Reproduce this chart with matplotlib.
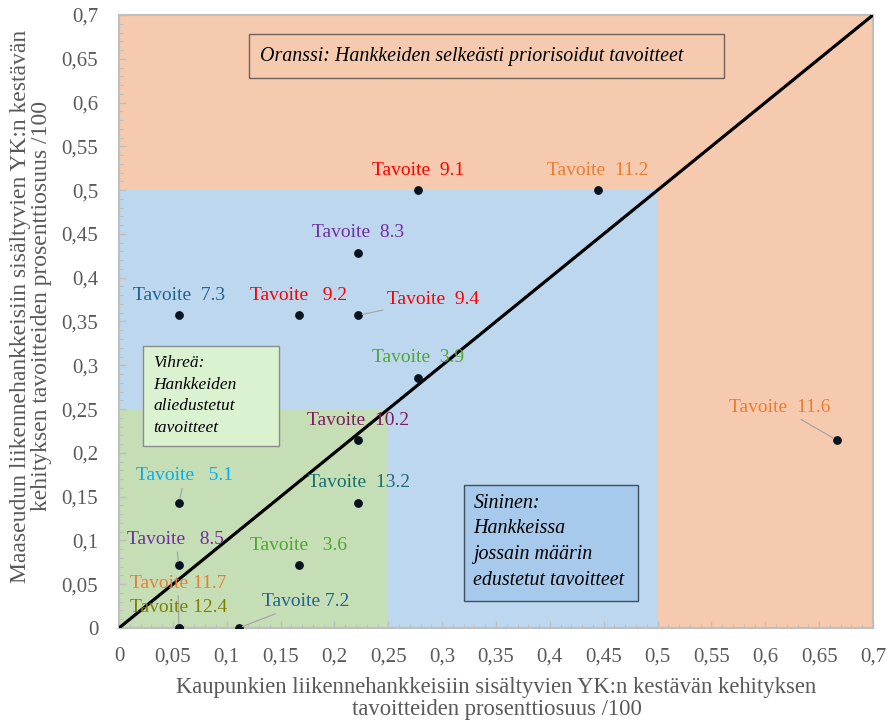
import matplotlib
matplotlib.use("Agg")
import matplotlib.pyplot as plt
from matplotlib.patches import Rectangle
from matplotlib.ticker import MultipleLocator, FuncFormatter

# data: share of goals (city, rural)
labels = ["Tavoite  9.1", "Tavoite  11.2", "Tavoite  8.3", "Tavoite  7.3", "Tavoite   9.2",
          "Tavoite  9.4", "Tavoite  3.9", "Tavoite  10.2", "Tavoite  13.2", "Tavoite   5.1",
          "Tavoite   8.5", "Tavoite   3.6", "Tavoite 11.7", "Tavoite 12.4", "Tavoite 7.2",
          "Tavoite  11.6"]
city = [0.2778, 0.4444, 0.2222, 0.0556, 0.1667, 0.2222, 0.2778, 0.2222, 0.2222, 0.0556,
        0.0556, 0.1667, 0.0556, 0.0556, 0.1111, 0.6667]
rural = [0.5, 0.5, 0.4286, 0.3571, 0.3571, 0.3571, 0.2857, 0.2143, 0.1429, 0.1429,
         0.0714, 0.0714, 0.0, 0.0, 0.0, 0.2143]
colors = ["#FF0000", "#ED7D31", "#7030A0", "#1F6391", "#FF0000", "#FF0000", "#4EA72E",
          "#7B1F5F", "#1B6F6A", "#00B0F0", "#7030A0", "#4EA72E", "#ED7D31", "#808000",
          "#1F6391", "#ED7D31"]

# label offsets in pixels (dx, dy) and whether a leader line is drawn
offsets = [(0, 20), (0, 20), (0, 20), (0, 20), (0, 20), (75, 16), (0, 20), (0, 20),
           (1, 20), (6, 27), (-3, 26), (0, 20), (-1, 45), (0, 21), (67, 26), (-57, 33)]
leaders = [False, False, False, False, False, True, False, False, False, True,
           True, False, True, False, True, True]

serif = "Liberation Serif"
gray = "#595959"

fig = plt.figure(figsize=(8.95, 7.26), dpi=100)
ax = fig.add_axes([119 / 895, 1 - 628 / 726, (873 - 119) / 895, (628 - 15) / 726])

ax.set_xlim(0, 0.7)
ax.set_ylim(0, 0.7)
ax.set_facecolor("#F6CAAE")
ax.add_patch(Rectangle((0, 0), 0.5, 0.5, facecolor="#BDD7EE", edgecolor="none", zorder=0))
ax.add_patch(Rectangle((0, 0), 0.25, 0.25, facecolor="#C5DEB5", edgecolor="none", zorder=0.5))

ax.plot([0, 0.7], [0, 0.7], color="black", lw=2.3, zorder=3)
ax.scatter(city, rural, s=28, color="#06121f", zorder=5)

for i in range(len(labels)):
    ap = None
    if leaders[i]:
        ap = dict(arrowstyle="-", color="#A6A6A6", lw=0.9, shrinkA=1, shrinkB=3)
    ax.annotate(labels[i], (city[i], rural[i]), xytext=offsets[i], textcoords="offset pixels",
                ha="center", va="center", color=colors[i], fontsize=14, family=serif,
                arrowprops=ap, zorder=6)

# text boxes
ax.add_patch(Rectangle((0.1207, 0.628), 0.441, 0.05, facecolor="#F6CAAE", edgecolor="#6F6058",
                       lw=1.0, zorder=4))
ax.text(0.1305, 0.653, "Oranssi: Hankkeiden selkeästi priorisoidut tavoitteet", style="italic",
        family=serif, fontsize=14.4, va="center", ha="left", zorder=6)

ax.add_patch(Rectangle((0.0223, 0.2078), 0.1263, 0.1142, facecolor="#DAF2D0", edgecolor="#8C8C8C",
                       lw=1.0, zorder=4))
for j, t in enumerate(["Vihreä:", "Hankkeiden", "aliedustetut", "tavoitteet"]):
    ax.text(0.032, 0.3026 - j * 0.0248, t, style="italic", family=serif, fontsize=12.5,
            va="center", ha="left", zorder=6)

ax.add_patch(Rectangle((0.3203, 0.0308), 0.1616, 0.1325, facecolor="#A6C9EC", edgecolor="#3F4F60",
                       lw=1.0, zorder=4))
for j, t in enumerate(["Sininen:", "Hankkeissa", "jossain määrin", "edustetut tavoitteet"]):
    ax.text(0.329, 0.1427 - j * 0.0293, t, style="italic", family=serif, fontsize=14.4,
            va="center", ha="left", zorder=6)

# axes styling
for s in ax.spines.values():
    s.set_color("#BFBFBF")
    s.set_linewidth(1.5)
ax.xaxis.set_major_locator(MultipleLocator(0.05))
ax.yaxis.set_major_locator(MultipleLocator(0.05))
ax.xaxis.set_minor_locator(MultipleLocator(0.01))
ax.yaxis.set_minor_locator(MultipleLocator(0.01))
fmt = FuncFormatter(lambda v, p: ("%g" % round(v, 2)).replace(".", ","))
ax.xaxis.set_major_formatter(fmt)
ax.yaxis.set_major_formatter(fmt)
ax.tick_params(which="major", direction="in", length=5, width=1, color="#BFBFBF",
               labelsize=15, labelcolor=gray)
ax.tick_params(axis="x", which="major", pad=14)
ax.tick_params(axis="y", which="major", pad=15)
ax.tick_params(which="minor", direction="in", length=3, width=0.8, color="#BFBFBF")
for lab in ax.get_xticklabels() + ax.get_yticklabels():
    lab.set_family(serif)

fig.text(496.5 / 895, 1 - 698.5 / 726,
         "Kaupunkien liikennehankkeisiin sisältyvien YK:n kestävän kehityksen\n"
         "tavoitteiden prosenttiosuus /100", ha="center", va="center", fontsize=16.3,
         color=gray, family=serif, linespacing=1.0)
fig.text(31 / 895, 1 - 306 / 726,
         "Maaseudun liikennehankkeisiin sisältyvien YK:n kestävän\n"
         "kehityksen tavoitteiden prosenttiosuus /100", ha="center", va="center", fontsize=17,
         color=gray, family=serif, rotation=90, linespacing=0.95)

fig.savefig("out.png", dpi=100)
